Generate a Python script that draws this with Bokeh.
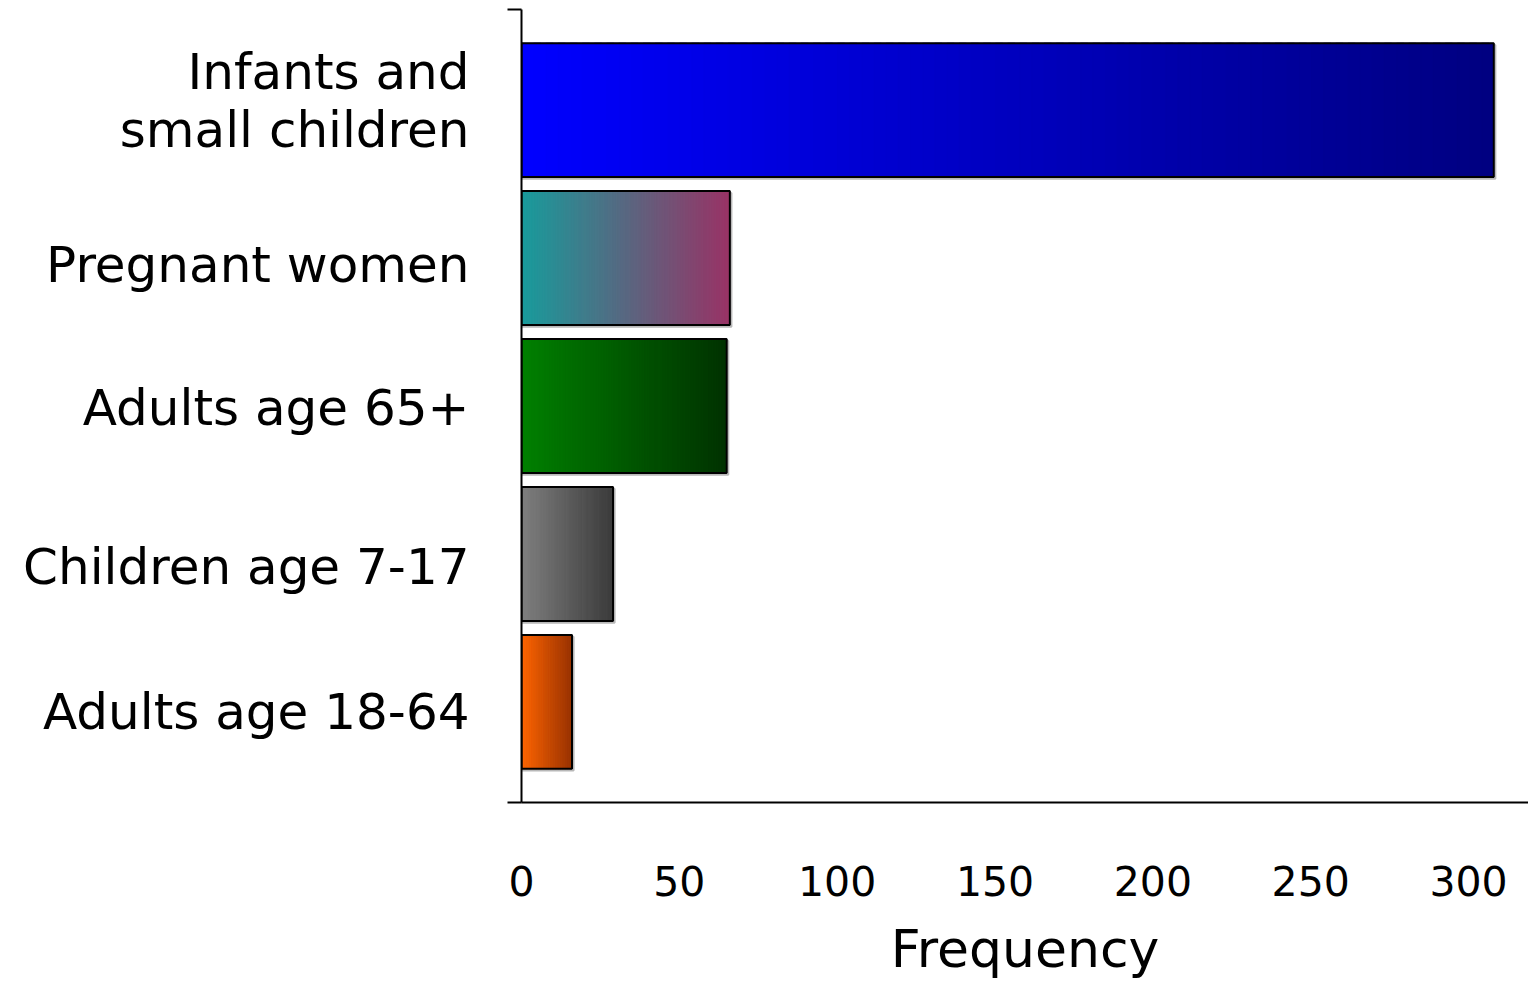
import numpy as np
from bokeh.plotting import figure
from bokeh.models import Range1d, FixedTicker
from bokeh.embed import file_html
from bokeh.resources import INLINE

# ---- data ----
categories = ["Infants and\nsmall children", "Pregnant women", "Adults age 65+",
              "Children age 7-17", "Adults age 18-64"]
values = [308, 66, 65, 29, 16]
color_start = ["#0000FF", "#189C9C", "#008000", "#808080", "#FF6600"]
color_end = ["#000080", "#993366", "#003300", "#3C3C3C", "#993300"]
x_ticks = [0, 50, 100, 150, 200, 250, 300]

# style: small vertical nudges of the category labels (in band units)
label_nudge = [-0.06, 0.045, 0.015, 0.085, 0.065]

FONT = "DejaVu Sans"
BAR_H = 0.905
N_SLICES = 80

def hex_to_rgb(h):
    h = h.lstrip("#")
    return np.array([int(h[i:i + 2], 16) for i in (0, 2, 4)], dtype=float)

def rgb_to_hex(c):
    return "#%02x%02x%02x" % tuple(int(round(v)) for v in c)

p = figure(width=1528, height=981,
           x_range=Range1d(0, 319), y_range=Range1d(4.68, -0.68),
           output_backend="svg", toolbar_location=None,
           min_border_left=521, min_border_right=0, min_border_top=9, min_border_bottom=0)
p.outline_line_color = None
p.xgrid.visible = False
p.ygrid.visible = False
p.background_fill_color = "white"
p.border_fill_color = "white"

ys = list(range(len(categories)))

# soft drop shadow behind bars (drawn first)
p.hbar(y=[y + 0.012 for y in ys], left=0, right=[v + 0.5 for v in values],
       height=BAR_H, fill_color=None, line_color="#b8b8b8", line_width=2)

# gradient bars, built as overlapping thin slices from each value
for i, (v, cs, ce) in enumerate(zip(values, color_start, color_end)):
    edges = np.linspace(0, v, N_SLICES + 1)
    step = v / N_SLICES
    c0, c1 = hex_to_rgb(cs), hex_to_rgb(ce)
    t = (np.arange(N_SLICES) + 0.5) / N_SLICES
    cols = [rgb_to_hex(c0 + (c1 - c0) * tt) for tt in t]
    rights = np.minimum(edges[1:] + step * 0.6, v)
    p.hbar(y=[ys[i]] * N_SLICES, left=edges[:-1], right=rights,
           height=BAR_H, fill_color=cols, line_color=cols, line_width=0.5)

# outline
p.hbar(y=ys, left=0, right=values, height=BAR_H, fill_color=None,
       line_color="black", line_width=2)

# axes
xa = p.xaxis[0]
xa.ticker = FixedTicker(ticks=x_ticks)
xa.major_tick_out = 0
xa.major_tick_in = 0
xa.minor_tick_out = 0
xa.minor_tick_in = 0
xa.axis_line_width = 2
xa.axis_line_color = "black"
xa.major_label_standoff = 63
xa.major_label_text_font = FONT
xa.major_label_text_font_size = "41px"
xa.major_label_text_color = "black"
xa.axis_label = "Frequency"
xa.axis_label_text_font = FONT
xa.axis_label_text_font_size = "52px"
xa.axis_label_text_font_style = "normal"
xa.axis_label_text_color = "black"
xa.axis_label_standoff = 20

label_pos = [y + d for y, d in zip(ys, label_nudge)]
ya = p.yaxis[0]
ya.ticker = FixedTicker(ticks=label_pos, minor_ticks=[-0.68, 4.68])
ya.major_tick_out = 0
ya.major_tick_in = 0
ya.minor_tick_out = 14
ya.minor_tick_in = 0
ya.minor_tick_line_width = 2
ya.minor_tick_line_color = "black"
ya.axis_line_width = 2
ya.axis_line_color = "black"
ya.major_label_overrides = {pos: cat for pos, cat in zip(label_pos, categories)}
ya.major_label_standoff = 38
ya.major_label_text_font = FONT
ya.major_label_text_font_size = "50px"
ya.major_label_text_line_height = 1.0
ya.major_label_text_color = "black"

open("out.html", "w").write(file_html(p, INLINE))
